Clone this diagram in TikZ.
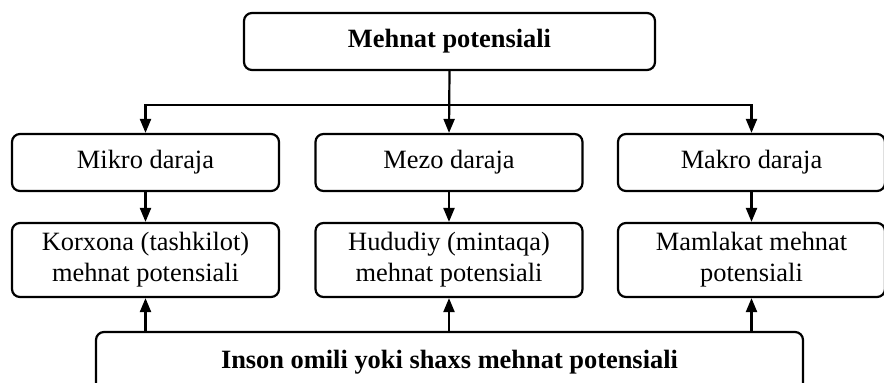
\documentclass[tikz,border=0pt]{standalone}
\usepackage{fontspec}
\setmainfont{Liberation Serif}
\usetikzlibrary{arrows.meta, positioning}

\tikzset{
  box/.style={draw, line width=2.2pt, rounded corners=8pt, inner sep=0pt,
    align=center, font=\fontsize{26.4}{31}\selectfont},
  levelbox/.style={box, minimum width=267pt, minimum height=57pt},
  potbox/.style={box, minimum width=267pt, minimum height=74pt},
  arr/.style={line width=2.2pt, -{Triangle[length=14pt, width=11pt]}}
}

\begin{document}
\begin{tikzpicture}[x=1pt, y=-1pt]
% Frame of the picture (bottom box runs off the edge)
\useasboundingbox (0,0) rectangle (884,383);
\clip (0,0) rectangle (884,383);

% Parameters
\def\yone{162.5} % row of the levels
\def\ytwo{260}   % row of the potentials

% Top box
\node[box, minimum width=411pt, minimum height=57pt, font=\fontsize{26.4}{31}\selectfont\bfseries]
  (mehnat) at (449.5,41.5) {Mehnat potensiali};

% Levels
\node[levelbox] (mikro) at (145.5,\yone) {Mikro daraja};
\node[levelbox] (mezo)  at (449,\yone)   {Mezo daraja};
\node[levelbox] (makro) at (751.5,\yone) {Makro daraja};

% Potentials
\node[potbox] (korxona)  at (145.5,\ytwo) {Korxona (tashkilot)\\mehnat potensiali};
\node[potbox] (hududiy)  at (449,\ytwo)   {Hududiy (mintaqa)\\mehnat potensiali};
\node[potbox] (mamlakat) at (751.5,\ytwo) {Mamlakat mehnat\\potensiali};

% Bottom box
\node[box, minimum width=707pt, minimum height=60pt, font=\fontsize{26.4}{31}\selectfont\bfseries]
  (inson) at (449.5,362) {Inson omili yoki shaxs mehnat potensiali};

% Fork under the top box
\coordinate (fork) at (mehnat.south |- 0,105);
\draw[arr] (mehnat.south) -- (mezo.north);
\draw[arr] (fork) -| (mikro.north);
\draw[arr] (fork) -| (makro.north);

% Levels to potentials, and up from the bottom box
\foreach \a/\b in {mikro/korxona, mezo/hududiy, makro/mamlakat} {
  \draw[arr] (\a) -- (\b);
  \draw[arr] (inson.north -| \b.south) -- (\b.south);
}
\end{tikzpicture}
\end{document}
